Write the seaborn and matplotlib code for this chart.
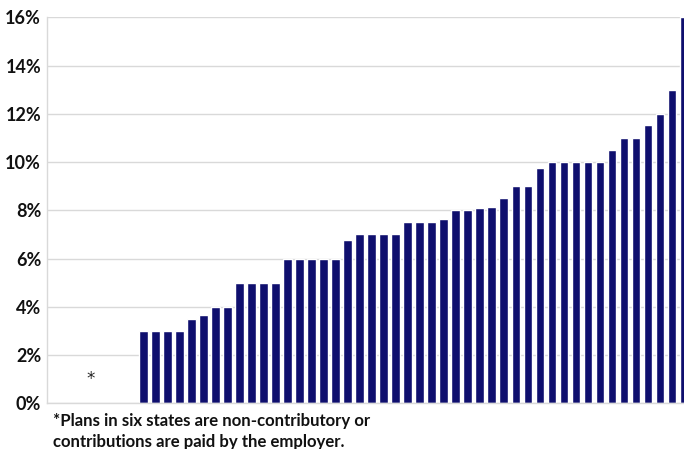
import matplotlib
matplotlib.use("Agg")
import matplotlib.pyplot as plt
import seaborn as sns
import pandas as pd
from matplotlib.ticker import MultipleLocator, FuncFormatter

# Data: employee contribution rates, sorted; six states non-contributory (0)
rates = [0, 0, 0, 0, 0, 0,
         3, 3, 3, 3, 3.5, 3.65, 4, 4, 5, 5, 5, 5,
         6, 6, 6, 6, 6, 6.75, 7, 7, 7, 7, 7.5, 7.5, 7.5, 7.65,
         8, 8, 8.1, 8.15, 8.5, 9, 9, 9.75, 10, 10, 10, 10, 10,
         10.5, 11, 11, 11.55, 12, 13, 16]
states = [f"S{i+1}" for i in range(len(rates))]
yticks = [0, 2, 4, 6, 8, 10, 12, 14, 16]
footnote = ["*Plans in six states are non-contributory or",
            "contributions are paid by the employer."]

df = pd.DataFrame({"state": states, "rate": rates})

sns.set_style("white")
plt.rcParams['font.family'] = ['Lato', 'DejaVu Sans']

W, H = 684, 449
fig = plt.figure(figsize=(W / 100, H / 100), dpi=100)
left_px, right_px = 46.7, 684
bottom_px, top_px = 403.3, 17.3
ax = fig.add_axes([left_px / W, (H - bottom_px) / H,
                   (right_px - left_px) / W, (bottom_px - top_px) / H])

sns.barplot(data=df, x="state", y="rate", color="#0f0f6e", saturation=1,
            width=0.72, ax=ax)

ax.set_xlim(-2.03, 50.99)
ax.set_ylim(0, 16)
ax.set_xlabel("")
ax.set_ylabel("")
ax.set_xticks([])
ax.set_yticks(yticks)
ax.yaxis.set_minor_locator(MultipleLocator(1))
ax.yaxis.set_major_formatter(FuncFormatter(lambda v, p: f"{v:.0f}%"))
ax.tick_params(axis="y", which="major", length=0, pad=4, labelsize=13,
               labelcolor="#111111")
ax.tick_params(axis="y", which="minor", length=6, direction="in",
               color="#d9d9d9", width=1)
for lab in ax.get_yticklabels():
    lab.set_fontweight("bold")
ax.grid(axis="y", which="major", color="#d9d9d9", linewidth=1)
ax.set_axisbelow(True)
for s in ["top", "right"]:
    ax.spines[s].set_visible(False)
for s in ["left", "bottom"]:
    ax.spines[s].set_color("#d9d9d9")
    ax.spines[s].set_linewidth(1)

ax.text(1.6, 1.0, "*", ha="center", va="center", fontsize=12,
        family="DejaVu Sans", color="#222222")

fig.text(53 / W, (H - 426) / H, footnote[0], fontsize=12.1, fontweight="bold",
         ha="left", va="baseline", color="#111111")
fig.text(53 / W, (H - 447) / H, footnote[1], fontsize=12.1, fontweight="bold",
         ha="left", va="baseline", color="#111111")

fig.savefig("out.png", dpi=100)
